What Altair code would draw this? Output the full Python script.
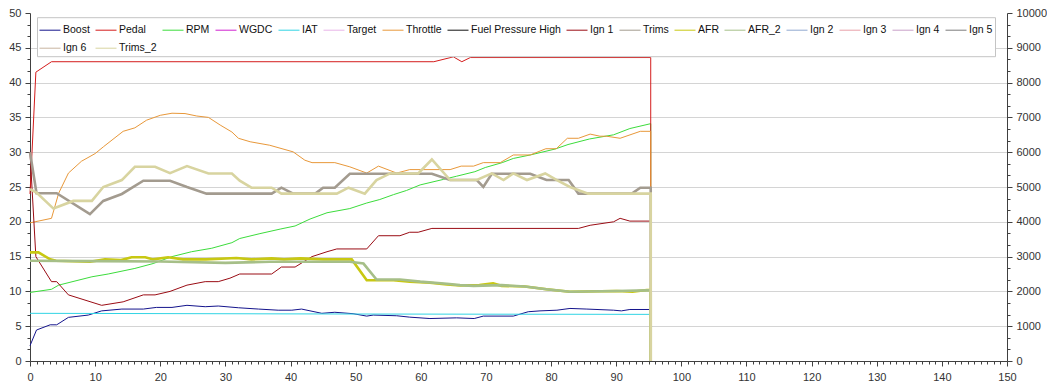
import altair as alt
import pandas as pd

SERIES = ["Boost", "Pedal", "RPM", "WGDC", "IAT", "Target", "Throttle",
          "Fuel Pressure High", "Ign 1", "Trims", "AFR", "AFR_2",
          "Ign 2", "Ign 3", "Ign 4", "Ign 5", "Ign 6", "Trims_2"]
COLORS = ["#14148c", "#d41c1c", "#3cdc3c", "#d020d0", "#30d4e4", "#e8b4e8",
          "#e8983a", "#101010", "#9a0c14", "#a39b8f", "#c8c812", "#a6bf88",
          "#90a8d0", "#e8a0a8", "#c8a0c8", "#7c7c7c", "#c8b4a0", "#d8d4a0"]

boost_x = [0, 1.0, 3.1, 4.1, 5.9, 8.95, 11.0, 14.1, 17.4, 19.4, 21.8, 24.1, 26.9, 28.9,
           32.0, 35.1, 38.1, 40.2, 41.7, 44.8, 46.8, 49.6, 51.7, 52.7, 56.3, 58.3, 61.4,
           65.5, 68.2, 69.6, 74.2, 76.5, 78.3, 80.9, 82.9, 85.5, 89.6, 90.8, 92.1, 95.3, 95.3]
boost_y = [2.2, 4.45, 5.2, 5.2, 6.27, 6.6, 7.2, 7.46, 7.46, 7.7, 7.7, 8.0, 7.8, 7.9,
           7.65, 7.46, 7.3, 7.3, 7.46, 6.85, 7.0, 6.8, 6.45, 6.6, 6.5, 6.3, 6.1,
           6.2, 6.1, 6.45, 6.45, 7.08, 7.2, 7.3, 7.55, 7.46, 7.3, 7.2, 7.4, 7.4, 0]

pedal_x = [0, 0.9, 3.3, 62.0, 65.0, 66.3, 67.6, 95.3, 95.3]
pedal_y = [24.0, 41.5, 43.0, 43.0, 43.7, 43.0, 43.6, 43.6, 0]

rpm_x = [0, 3.3, 4.4, 9.5, 12.0, 16.1, 18.9, 21.8, 24.8, 27.9, 31.0, 32.2, 35.3, 38.4,
         40.7, 43.0, 45.6, 49.1, 51.7, 53.7, 55.8, 57.8, 59.9, 63.5, 65.5, 68.3, 69.9,
         72.5, 74.2, 76.8, 80.6, 82.6, 85.9, 89.6, 92.1, 95.3, 95.3]
rpm_y = [1970, 2060, 2180, 2420, 2500, 2660, 2800, 3000, 3140, 3240, 3400, 3520, 3660, 3790,
         3880, 4080, 4260, 4380, 4540, 4640, 4780, 4900, 5060, 5220, 5310, 5440, 5560,
         5700, 5820, 5920, 6090, 6220, 6380, 6500, 6680, 6820, 0]

iat_x = [0, 50.0, 95.3, 95.3]
iat_y = [6.85, 6.75, 6.7, 0]

throttle_x = [0, 3.3, 4.4, 5.9, 7.9, 10.0, 11.3, 14.3, 16.1, 17.9, 20.0, 21.8, 23.8, 25.6,
              27.4, 29.2, 31.0, 32.0, 33.8, 36.8, 40.4, 42.2, 43.3, 46.8, 49.1, 51.7, 53.5,
              56.3, 58.3, 64.5, 66.2, 68.1, 69.6, 72.2, 74.2, 76.8, 79.2, 80.8, 82.5, 84.2,
              86.0, 87.5, 88.5, 90.6, 93.7, 95.3, 95.3]
throttle_y = [19.85, 20.5, 24.1, 27.0, 28.7, 29.8, 30.8, 33.0, 33.5, 34.6, 35.3, 35.6, 35.55, 35.2,
              35.0, 33.9, 32.9, 32.0, 31.5, 31.0, 30.05, 28.85, 28.5, 28.5, 27.9, 27.0, 28.0,
              27.0, 27.5, 27.5, 28.0, 28.0, 28.5, 28.5, 29.6, 29.6, 30.5, 30.5, 32.0, 32.0,
              32.6, 32.3, 32.3, 32.0, 33.0, 33.0, 0]

ign1_x = [0, 0.9, 3.3, 4.1, 5.9, 11.0, 14.3, 17.4, 19.2, 21.5, 24.1, 26.9, 28.9, 30.7,
          32.2, 37.1, 38.6, 40.7, 43.3, 45.6, 47.1, 51.7, 53.5, 56.8, 58.3, 59.6, 61.7,
          84.2, 86.0, 89.6, 90.6, 92.1, 95.3, 95.3]
ign1_y = [30.0, 15.0, 11.4, 11.4, 9.5, 8.0, 8.5, 9.5, 9.5, 10.0, 10.9, 11.4, 11.4, 11.9,
          12.5, 12.5, 13.5, 13.5, 15.0, 15.7, 16.1, 16.1, 18.0, 18.0, 18.5, 18.5, 19.05,
          19.05, 19.5, 20.0, 20.5, 20.1, 20.1, 0]

trims_x = [0, 1.0, 4.1, 9.2, 11.25, 14.1, 17.4, 21.5, 24.1, 27.1, 37.1, 38.6, 40.4, 43.8,
           45.0, 46.8, 49.1, 61.7, 64.5, 68.6, 69.6, 70.9, 76.8, 79.3, 82.7, 84.2, 92.4,
           93.7, 95.3, 95.3]
trims_y = [30.0, 24.1, 24.1, 21.1, 23.0, 24.0, 25.9, 25.9, 25.0, 24.05, 24.05, 24.9, 24.05, 24.05,
           24.9, 24.9, 26.9, 26.9, 26.0, 26.0, 25.0, 26.9, 26.9, 26.0, 26.0, 24.05, 24.05,
           24.9, 24.9, 0]

afr_x = [0, 1.3, 3.1, 4.0, 9.2, 11.5, 14.0, 15.6, 17.7, 18.9, 21.2, 23.5, 27.0, 31.7, 34.0,
         37.1, 39.0, 41.5, 45.0, 49.4, 51.7, 55.8, 58.3, 61.4, 64.0, 66.0, 69.0, 71.1, 72.4,
         76.0, 79.3, 82.9, 90.1, 92.5, 94.7, 95.3, 95.3]
afr_y = [15.6, 15.6, 14.6, 14.4, 14.25, 14.6, 14.5, 14.9, 14.9, 14.6, 14.9, 14.6, 14.6, 14.8, 14.6,
         14.75, 14.6, 14.75, 14.6, 14.6, 11.6, 11.6, 11.4, 11.25, 11.0, 10.85, 10.9, 11.15, 10.8,
         10.7, 10.3, 9.95, 10.05, 9.95, 10.2, 10.2, 0]

afr2_x = [0, 10.0, 20.0, 30.0, 36.8, 44.5, 49.1, 51.2, 53.2, 56.8, 59.9, 64.0, 66.0, 68.1,
          72.4, 76.0, 79.3, 82.9, 90.1, 94.7, 95.3, 95.3]
afr2_y = [14.4, 14.35, 14.3, 14.1, 14.25, 14.25, 14.25, 14.0, 11.7, 11.7, 11.4, 11.1, 10.9, 10.8,
          10.9, 10.7, 10.3, 9.95, 10.05, 10.15, 10.15, 0]

trims2_x = [0, 1.0, 3.6, 6.65, 9.5, 11.25, 14.1, 16.1, 19.2, 21.5, 24.1, 27.4, 31.0, 32.2,
            34.0, 37.1, 38.6, 47.1, 48.9, 51.4, 53.2, 55.3, 59.6, 61.7, 64.5, 68.6, 70.9,
            72.7, 74.2, 76.3, 79.1, 80.9, 82.9, 85.7, 95.3, 95.3]
trims2_y = [24.7, 24.2, 21.9, 23.0, 23.0, 25.0, 26.0, 27.9, 27.9, 27.0, 28.0, 26.95, 26.95, 25.9,
            24.9, 24.9, 24.05, 24.05, 24.9, 24.05, 26.0, 26.95, 26.95, 28.95, 26.0, 26.0, 26.95,
            26.0, 26.95, 26.0, 26.95, 26.0, 25.0, 24.05, 24.05, 0]

DATA = {
    "Boost": (boost_x, boost_y),
    "Pedal": (pedal_x, pedal_y),
    "RPM": (rpm_x, rpm_y),
    "IAT": (iat_x, iat_y),
    "Throttle": (throttle_x, throttle_y),
    "Ign 1": (ign1_x, ign1_y),
    "Trims": (trims_x, trims_y),
    "AFR": (afr_x, afr_y),
    "AFR_2": (afr2_x, afr2_y),
    "Trims_2": (trims2_x, trims2_y),
}

rows = []
for name, (xs, ys) in DATA.items():
    for i, (xv, yv) in enumerate(zip(xs, ys)):
        rows.append({"series": name, "x": xv, "y": yv, "i": i})
df = pd.DataFrame(rows)

FONT = "Liberation Sans"
AX = "#404040"

x_vals = list(range(0, 151))
yl_vals = [round(k * 5 / 3, 6) for k in range(31)]
yr_vals = [round(k * 1000 / 3, 4) for k in range(31)]

x_axis = alt.Axis(
    values=x_vals, grid=False, title=None,
    labelExpr="datum.value % 10 === 0 ? datum.label : ''",
    tickSize={"condition": {"test": "datum.value % 10 === 0", "value": 5}, "value": 3},
    labelPadding=5, labelFlush=False,
)
ML = "abs(datum.value/5 - round(datum.value/5)) < 0.001"
yl_axis = alt.Axis(
    values=yl_vals, title=None, grid=True, gridColor="#d4d4d4",
    gridOpacity={"condition": {"test": ML + " && datum.value > 0.5 && datum.value < 49.5", "value": 1}, "value": 0},
    labelExpr=ML + " ? datum.label : ''",
    tickSize={"condition": {"test": ML, "value": 5}, "value": 3},
    labelPadding=4, format="d",
)
MR = "abs(datum.value/1000 - round(datum.value/1000)) < 0.001"
yr_axis = alt.Axis(
    values=yr_vals, title=None, grid=False, orient="right",
    labelExpr=MR + " ? datum.label : ''",
    tickSize={"condition": {"test": MR, "value": 5}, "value": 3},
    labelPadding=4, format="d",
)

xscale = alt.Scale(domain=[0, 150], nice=False, zero=False)
ylscale = alt.Scale(domain=[0, 50], nice=False)
yrscale = alt.Scale(domain=[0, 10000], nice=False)
cscale = alt.Scale(domain=SERIES, range=COLORS)
legend = alt.Legend(
    title=None, orient="none", legendX=7, legendY=4.2, columns=16, direction="horizontal",
    gridAlign="none", symbolType="stroke", symbolSize=441, symbolStrokeWidth=1,
    labelOffset=2, columnPadding=3, rowPadding=1, padding=2,
    strokeColor="#c4c4c4", fillColor="white", symbolOpacity=1,
    labelFont=FONT, labelFontSize=10.5, labelColor="#111111",
)


def layer(name, width, yscale, yaxis):
    return alt.Chart(df).transform_filter(alt.datum.series == name).mark_line(
        strokeWidth=width
    ).encode(
        x=alt.X("x:Q", scale=xscale, axis=x_axis),
        y=alt.Y("y:Q", scale=yscale, axis=yaxis),
        color=alt.Color("series:N", scale=cscale, legend=legend),
        order="i:Q",
    )


rpm_layer = layer("RPM", 1, yrscale, yr_axis)
left = alt.layer(
    layer("Boost", 1, ylscale, yl_axis),
    layer("Pedal", 1, ylscale, yl_axis),
    layer("IAT", 1, ylscale, yl_axis),
    layer("Throttle", 1, ylscale, yl_axis),
    layer("Ign 1", 1, ylscale, yl_axis),
    layer("Trims", 2.6, ylscale, yl_axis),
    layer("AFR", 2.6, ylscale, yl_axis),
    layer("AFR_2", 2.6, ylscale, yl_axis),
    layer("Trims_2", 2.6, ylscale, yl_axis),
)

chart = alt.layer(rpm_layer, left).resolve_scale(y="independent").properties(
    width=977, height=348,
    autosize=alt.AutoSizeParams(type="none"),
    padding={"left": 22, "top": 5, "right": 40, "bottom": 21},
).configure_view(stroke="transparent").configure_axis(
    domainColor=AX, tickColor=AX, labelColor="#333333", labelFont=FONT, labelFontSize=11,
)

chart.save("out.html", embed_options={"renderer": "svg", "actions": False})
